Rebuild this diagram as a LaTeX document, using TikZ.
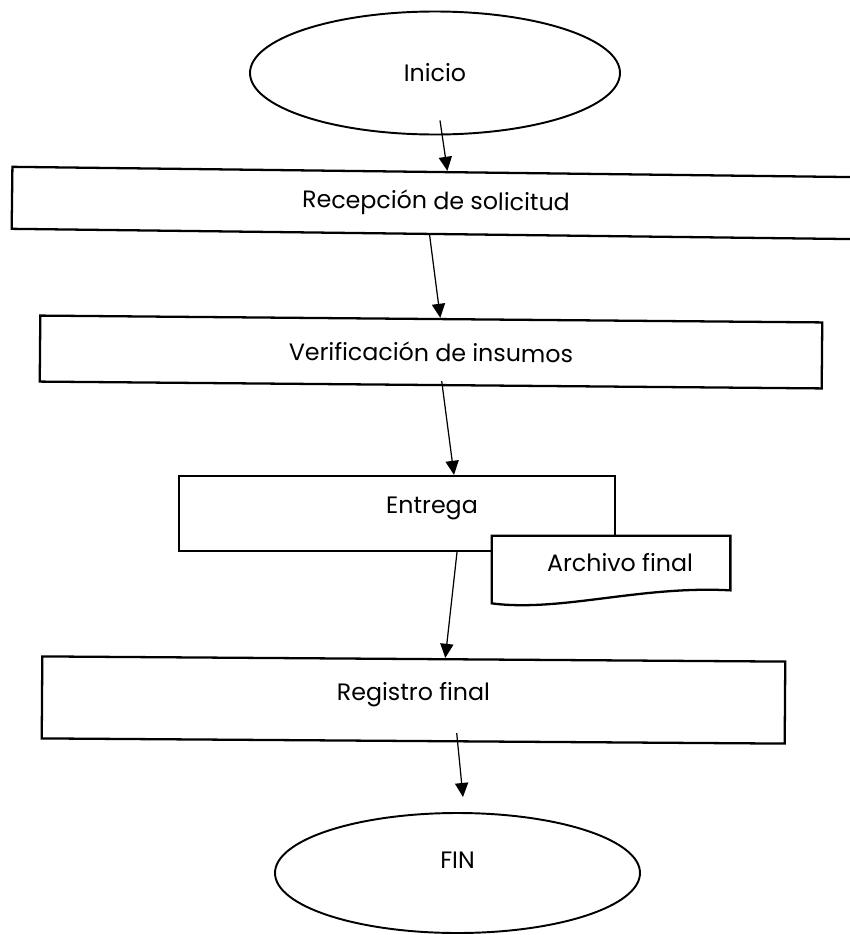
\documentclass[tikz,border=0pt]{standalone}
\usepackage{fontspec}
\setmainfont{Poppins}
\usetikzlibrary{shapes.geometric,arrows.meta}

\begin{document}
\begin{tikzpicture}[
  texto/.style={font=\fontsize{13.5}{16}\selectfont},
  caja/.style={draw, line width=1.3pt, inner sep=0pt, texto},
  ovalo/.style={draw, ellipse, line width=1.1pt, inner sep=0pt, texto},
  flecha/.style={-{Triangle[length=8pt,width=7.5pt]}, line width=0.7pt}
]
  \useasboundingbox (0,0) rectangle (17,-18.7);

  \node[ovalo, minimum width=7.4cm, minimum height=2.46cm] (inicio) at (8.7,-1.46) {Inicio};
  \node[caja, minimum width=16.96cm, minimum height=1.24cm, rotate=-0.7] (recep) at (8.72,-4.06) {Recepción de solicitud};
  \node[caja, minimum width=15.64cm, minimum height=1.32cm, rotate=-0.5] (verif) at (8.62,-7.04) {Verificación de insumos};
  \node[caja, minimum width=8.72cm, minimum height=1.5cm,
        label={[xshift=0.7cm, yshift=0.1cm, texto]center:Entrega}] (entrega) at (7.94,-10.27) {};
  \node[minimum width=4.76cm, minimum height=1.28cm, inner sep=0pt] (archivo) at (12.22,-11.36) {};
  \node[caja, minimum width=14.86cm, minimum height=1.64cm, rotate=-0.4,
        label={[yshift=0.1cm, texto]center:Registro final}] (registro) at (8.27,-14.0) {};
  \node[ovalo, minimum width=7.3cm, minimum height=2.4cm,
        label={[yshift=0.26cm, texto]center:FIN}] (fin) at (9.15,-17.46) {};

  % documento
  \filldraw[fill=white, line width=1.3pt] (archivo.north west) -- (archivo.north east)
    -- ([yshift=0.2cm]archivo.south east)
    .. controls ([shift={(-1.8,0.3)}]archivo.south east) and ([shift={(-3.4,-0.24)}]archivo.south east)
    .. ([yshift=-0.06cm]archivo.south west) -- cycle;
  \node[texto] (archivotxt) at ([xshift=0.18cm,yshift=0.1cm]archivo.center) {Archivo final};

  \draw[flecha] ([shift={(0.1,0.3)}]inicio.south) -- ([xshift=0.22cm]recep.north);
  \draw[flecha] ([xshift=-0.12cm]recep.south) -- ([xshift=0.18cm]verif.north);
  \draw[flecha] ([shift={(0.22,0.1)}]verif.south) -- ([xshift=1.14cm]entrega.north);
  \draw[flecha] ([xshift=1.2cm]entrega.south) -- ([xshift=0.63cm]registro.north);
  \draw[flecha] ([shift={(0.87,0.18)}]registro.south) -- ([shift={(0.11,0.3)}]fin.north);
\end{tikzpicture}
\end{document}
